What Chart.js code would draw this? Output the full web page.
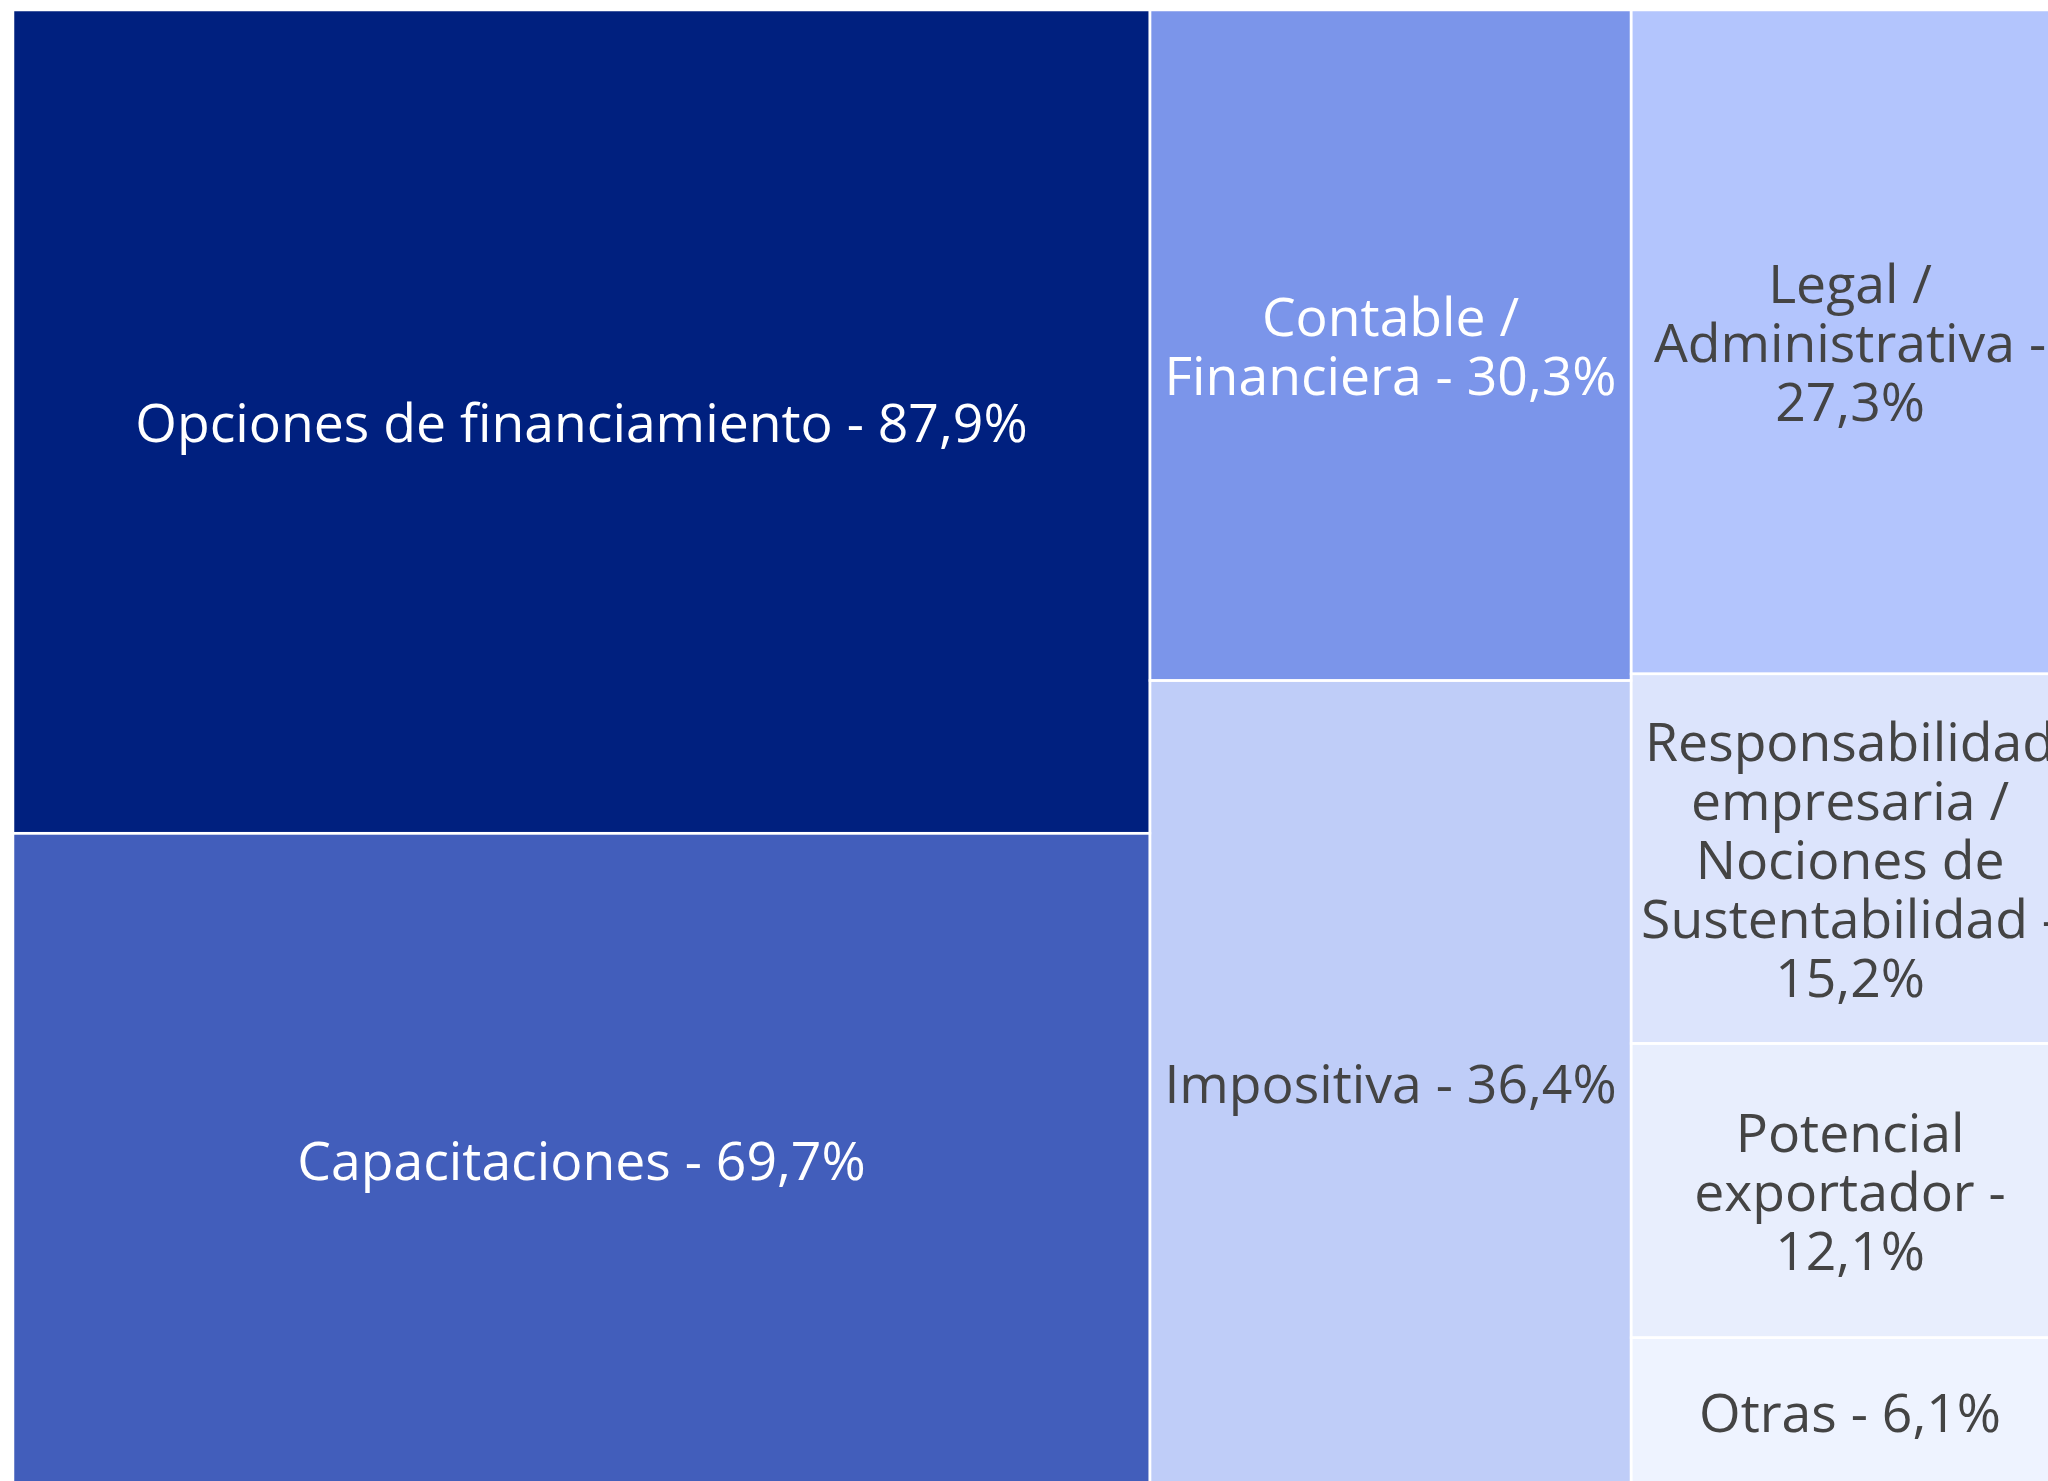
<!DOCTYPE html>
<html>
<head>
<meta charset="utf-8">
<script src="https://cdn.jsdelivr.net/npm/chart.js@4.4.1/dist/chart.umd.min.js"></script>
<style>
  html, body { margin: 0; padding: 0; background: #ffffff; overflow: hidden; width: 2048px; height: 1481px; }
  canvas { display: block; }
</style>
</head>
<body>
<canvas id="chart" width="2069" height="1486" style="width:2069px;height:1486px"></canvas>
<script>
// ---- data (display order) ----
const categories = [
  "Opciones de financiamiento",
  "Capacitaciones",
  "Contable / Financiera",
  "Impositiva",
  "Legal / Administrativa",
  "Responsabilidad empresaria / Nociones de Sustentabilidad",
  "Potencial exportador",
  "Otras"
];
const percentages = [87.9, 69.7, 30.3, 36.4, 27.3, 15.2, 12.1, 6.1];
const labelLines = [
  ["Opciones de financiamiento - 87,9%"],
  ["Capacitaciones - 69,7%"],
  ["Contable /", "Financiera - 30,3%"],
  ["Impositiva - 36,4%"],
  ["Legal /", "Administrativa -", "27,3%"],
  ["Responsabilidad", "empresaria /", "Nociones de", "Sustentabilidad -", "15,2%"],
  ["Potencial", "exportador -", "12,1%"],
  ["Otras - 6,1%"]
];
const columnOf = [0, 0, 1, 1, 2, 2, 2, 2];
const cellColors = ["#00207F", "#425EBB", "#7B95EA", "#BFCDF8", "#B3C5FD", "#DCE4FC", "#E8EEFD", "#EEF3FF"];
const textColors = ["#ffffff", "#ffffff", "#ffffff", "#444444", "#444444", "#444444", "#444444", "#444444"];

// ---- treemap layout in data units (x: 0..total, y: 0..100 within column) ----
const total = percentages.reduce((a, b) => a + b, 0);
const colTotals = [];
percentages.forEach((v, i) => { colTotals[columnOf[i]] = (colTotals[columnOf[i]] || 0) + v; });
const colStart = [];
let accX = 0;
colTotals.forEach((t, c) => { colStart[c] = accX; accX += t; });
const colAcc = colTotals.map(() => 0);
const cells = percentages.map((v, i) => {
  const c = columnOf[i];
  const y0 = colAcc[c] / colTotals[c] * 100;
  colAcc[c] += v;
  const y1 = colAcc[c] / colTotals[c] * 100;
  return { x0: colStart[c], x1: colStart[c] + colTotals[c], y0, y1 };
});

const FONT = '53.5px "Open Sans", "Noto Sans", sans-serif';
const LINE_H = 59;
const TEXT_SHIFT = 5;

const treemapPlugin = {
  id: 'treemapCells',
  beforeDraw(chart) {
    const ctx = chart.ctx;
    ctx.save();
    ctx.fillStyle = '#ffffff';
    ctx.fillRect(0, 0, chart.width, chart.height);
    ctx.restore();
  },
  afterDatasetsDraw(chart) {
    const ctx = chart.ctx;
    const xs = chart.scales.x, ys = chart.scales.y;
    const rects = cells.map(c => {
      const a = xs.getPixelForValue(c.x0), b = xs.getPixelForValue(c.x1);
      const p = ys.getPixelForValue(c.y0), q = ys.getPixelForValue(c.y1);
      return { l: Math.min(a, b), r: Math.max(a, b), t: Math.min(p, q), b: Math.max(p, q) };
    });
    ctx.save();
    rects.forEach((r, i) => {
      ctx.fillStyle = cellColors[i];
      ctx.fillRect(r.l, r.t, r.r - r.l, r.b - r.t);
    });
    ctx.strokeStyle = '#ffffff';
    ctx.lineWidth = 2.5;
    rects.forEach(r => {
      ctx.strokeRect(r.l, r.t, r.r - r.l, r.b - r.t);
    });
    ctx.font = FONT;
    ctx.textAlign = 'center';
    ctx.textBaseline = 'middle';
    rects.forEach((r, i) => {
      const lines = labelLines[i];
      const cx = (r.l + r.r) / 2, cy = (r.t + r.b) / 2 + TEXT_SHIFT;
      ctx.fillStyle = textColors[i];
      lines.forEach((ln, k) => {
        const y = cy + (k - (lines.length - 1) / 2) * LINE_H;
        ctx.fillText(ln, cx, y);
      });
    });
    ctx.restore();
  }
};

new Chart(document.getElementById('chart'), {
  type: 'scatter',
  data: {
    labels: categories,
    datasets: [{
      label: 'Temas',
      data: cells.map(c => ({ x: (c.x0 + c.x1) / 2, y: (c.y0 + c.y1) / 2 })),
      pointRadius: 0,
      pointHoverRadius: 0
    }]
  },
  options: {
    responsive: false,
    animation: false,
    devicePixelRatio: 1,
    layout: { padding: { left: 13, top: 10, right: 0, bottom: 0 } },
    plugins: { legend: { display: false }, tooltip: { enabled: false }, title: { display: false } },
    scales: {
      x: { type: 'linear', display: false, min: 0, max: total },
      y: { type: 'linear', display: false, min: 0, max: 100, reverse: true }
    }
  },
  plugins: [treemapPlugin]
});
</script>
</body>
</html>
